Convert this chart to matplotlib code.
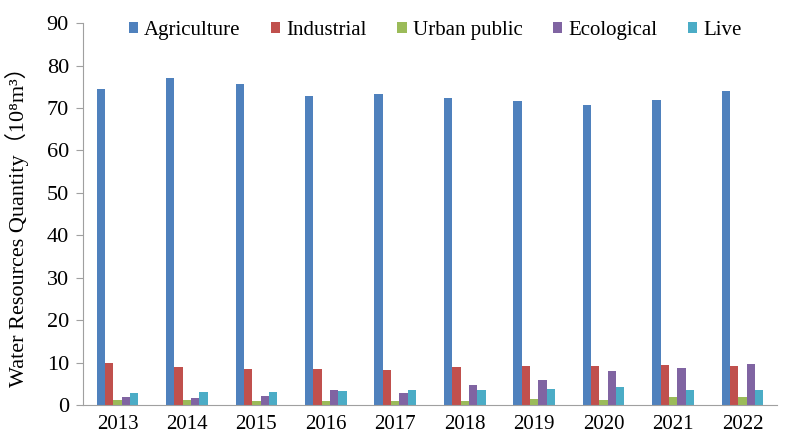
import numpy as np
import matplotlib
matplotlib.use('Agg')
import matplotlib.pyplot as plt

plt.rcParams['font.family'] = ['Liberation Serif', 'Noto Sans CJK SC', 'DejaVu Sans']

years = ['2013', '2014', '2015', '2016', '2017', '2018', '2019', '2020', '2021', '2022']
agriculture = [74.4, 77.0, 75.6, 72.9, 73.2, 72.3, 71.6, 70.8, 71.9, 74.1]
industrial = [9.9, 9.0, 8.5, 8.5, 8.3, 8.9, 9.15, 9.15, 9.45, 9.15]
urban_public = [1.2, 1.2, 0.9, 0.9, 0.9, 0.9, 1.3, 1.2, 1.9, 1.9]
ecological = [1.9, 1.6, 2.1, 3.5, 2.9, 4.7, 5.9, 8.0, 8.7, 9.6]
live = [2.9, 3.05, 3.05, 3.3, 3.5, 3.5, 3.75, 4.2, 3.5, 3.5]

series = [('Agriculture', agriculture, '#4F81BD'),
          ('Industrial', industrial, '#C0504D'),
          ('Urban public', urban_public, '#9BBB59'),
          ('Ecological', ecological, '#8064A2'),
          ('Live', live, '#4BACC6')]

fig = plt.figure(figsize=(7.89, 4.45), dpi=100)
ax = fig.add_axes([0.105, 0.09, 0.88, 0.858])

x = np.arange(len(years))
w = 0.12
for i, (name, vals, col) in enumerate(series):
    ax.bar(x + (i - 2) * w, vals, w, color=col, label=name)

ax.set_xlim(-0.5, len(years) - 0.5)
ax.set_ylim(0, 90)
ax.set_yticks(np.arange(0, 91, 10))
ax.set_xticks(x)
ax.set_xticklabels(years)
ax.tick_params(axis='x', length=0, pad=7, labelsize=15)
ax.tick_params(axis='y', length=5, color='#a0a0a0', labelsize=16, pad=5)
for s in ['top', 'right']:
    ax.spines[s].set_visible(False)
for s in ['left', 'bottom']:
    ax.spines[s].set_color('#a0a0a0')

ax.set_ylabel('Water Resources Quantity（10⁸m³）', fontsize=16)
ax.yaxis.set_label_coords(-0.077, 0.48)

ax.legend(ncol=5, frameon=False, loc='upper left', bbox_to_anchor=(0.066, 1.006),
          fontsize=15, handlelength=0.45, handleheight=0.5, handletextpad=0.3,
          columnspacing=1.45, borderaxespad=0, borderpad=0)

fig.savefig('out.png', dpi=100)
